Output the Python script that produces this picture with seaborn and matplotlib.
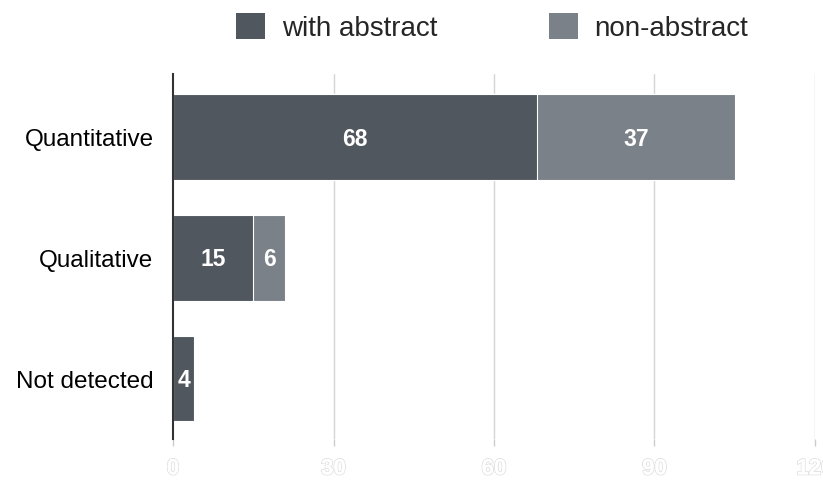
import matplotlib
matplotlib.use("Agg")
import matplotlib.pyplot as plt
import matplotlib.patheffects as pe
from matplotlib.patches import Patch
import seaborn as sns
import pandas as pd

categories = ["Quantitative", "Qualitative", "Not detected"]
with_abstract = [68, 15, 4]
non_abstract = [37, 6, 0]
x_ticks = [0, 30, 60, 90, 120]

DARK = "#51575f"
LIGHT = "#7b8189"

sns.set_theme(style="white")
plt.rcParams['font.family'] = ['Liberation Sans', 'DejaVu Sans']

df = pd.DataFrame({
    "category": categories,
    "with": with_abstract,
    "non": non_abstract,
})
df["total"] = df["with"] + df["non"]

fig = plt.figure(figsize=(8.23, 4.85), dpi=100)
ax = fig.add_axes([173/823, 1-440/485, (815-173)/823, (440-75)/485])

sns.barplot(data=df, y="category", x="total", color=LIGHT, saturation=1,
            width=0.71, edgecolor="white", linewidth=0.8, ax=ax, orient="h")
sns.barplot(data=df, y="category", x="with", color=DARK, saturation=1,
            width=0.71, edgecolor="white", linewidth=0.8, ax=ax, orient="h")

for i, (w, n) in enumerate(zip(with_abstract, non_abstract)):
    if w > 0:
        ax.text(w / 2, i + 0.01, str(w), ha="center", va="center", color="white",
                fontsize=16.5, fontweight="bold")
    if n > 0:
        ax.text(w + n / 2, i + 0.01, str(n), ha="center", va="center", color="white",
                fontsize=16.5, fontweight="bold")

ax.set_xlim(0, 120)
ax.set_ylim(2.5, -0.52)
ax.set_xticks(x_ticks)
ax.set_xticklabels([str(t) for t in x_ticks])
ax.set_xlabel("")
ax.set_ylabel("")

for t in x_ticks[1:]:
    ax.axvline(t, color="#d6d6d6", lw=1, zorder=0)

for s in ["top", "right", "bottom"]:
    ax.spines[s].set_visible(False)
ax.spines["left"].set_color("#333333")
ax.spines["left"].set_linewidth(1.5)

ax.tick_params(axis="x", length=5, width=1, color="#cccccc", pad=9,
               labelsize=16, labelcolor="white", bottom=True)
for lbl in ax.get_xticklabels():
    lbl.set_path_effects([pe.withStroke(linewidth=1.2, foreground="#dddddd"),
                          pe.Normal()])
    lbl.set_fontweight("bold")
ax.get_xticklines()[0].set_color("#333333")
ax.tick_params(axis="y", length=0, pad=14, labelsize=17.5, labelcolor="black")

handles = [Patch(facecolor=DARK, edgecolor="none", label="with abstract"),
           Patch(facecolor=LIGHT, edgecolor="none", label="non-abstract")]
fig.legend(handles=handles, loc="center", bbox_to_anchor=(0.598, 0.942),
           ncol=2, frameon=False, fontsize=20, handlelength=1.05,
           handleheight=1.05, handletextpad=0.6, columnspacing=4.0)

fig.savefig("out.png", dpi=100)
